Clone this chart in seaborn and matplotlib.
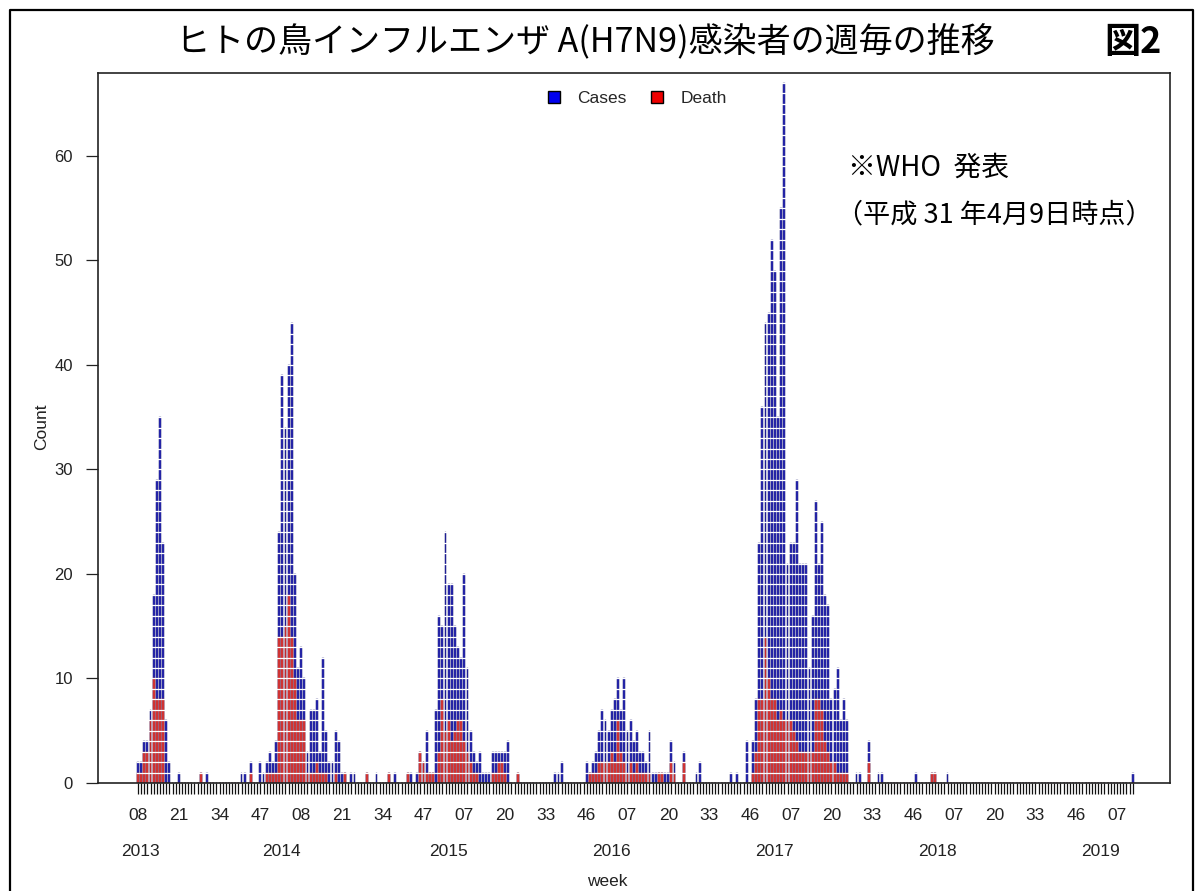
import numpy as np
import pandas as pd
import matplotlib
matplotlib.use("Agg")
import matplotlib.pyplot as plt
import matplotlib.transforms as mtransforms
from matplotlib.patches import Patch
from matplotlib.lines import Line2D
import seaborn as sns

# ---------------- data (weekly counts, 2013 w08 ... 2019 w12) ----------------
cases = [
    2, 2, 4, 4, 7, 18, 29, 35, 23, 6, 2, 0, 0,
    1, 0, 0, 0, 0, 0, 0, 1, 0, 1, 0, 0, 0,
    0, 0, 0, 0, 0, 0, 0, 1, 1, 0, 2, 0, 0,
    2, 1, 2, 3, 2, 4, 24, 39, 34, 40, 44, 20, 11,
    13, 10, 3, 7, 7, 8, 3, 12, 5, 2, 2, 5, 4,
    1, 1, 0, 1, 1, 0, 0, 0, 1, 0, 0, 1, 0,
    0, 0, 1, 0, 1, 0, 0, 0, 1, 1, 0, 1, 3,
    2, 5, 1, 1, 7, 16, 15, 24, 19, 19, 15, 13, 12,
    20, 11, 5, 3, 2, 3, 1, 1, 1, 3, 3, 3, 3,
    3, 4, 0, 0, 1, 0, 0, 0, 0, 0, 0, 0, 0,
    0, 0, 0, 1, 1, 2, 0, 0, 0, 0, 0, 0, 0,
    2, 1, 2, 3, 5, 7, 6, 5, 7, 8, 10, 7, 10,
    5, 6, 4, 5, 3, 3, 2, 5, 1, 1, 1, 1, 1,
    1, 4, 2, 0, 0, 3, 0, 0, 0, 1, 2, 0, 0,
    0, 0, 0, 0, 0, 0, 0, 1, 0, 1, 0, 0, 4,
    0, 4, 8, 23, 36, 44, 45, 52, 49, 35, 55, 67, 21,
    23, 23, 29, 21, 21, 21, 11, 16, 27, 21, 25, 18, 17,
    8, 9, 11, 6, 8, 6, 0, 0, 1, 1, 0, 0, 4,
    0, 0, 1, 1, 0, 0, 0, 0, 0, 0, 0, 0, 0,
    0, 1, 0, 0, 0, 0, 1, 1, 0, 0, 0, 1, 0,
    0, 0, 0, 0, 0, 0, 0, 0, 0, 0, 0, 0, 0,
    0, 0, 0, 0, 0, 0, 0, 0, 0, 0, 0, 0, 0,
    0, 0, 0, 0, 0, 0, 0, 0, 0, 0, 0, 0, 0,
    0, 0, 0, 0, 0, 0, 0, 0, 0, 0, 0, 0, 0,
    0, 0, 0, 0, 0, 1,
]
deaths = [
    1, 1, 3, 3, 6, 10, 8, 8, 8, 0, 0, 0, 0,
    0, 0, 0, 0, 0, 0, 0, 1, 0, 0, 0, 0, 0,
    0, 0, 0, 0, 0, 0, 0, 0, 0, 0, 1, 0, 0,
    0, 0, 1, 1, 1, 1, 14, 14, 15, 18, 14, 10, 6,
    6, 6, 1, 1, 1, 2, 1, 1, 1, 0, 0, 1, 0,
    0, 1, 0, 0, 0, 0, 0, 0, 1, 0, 0, 0, 0,
    0, 0, 1, 0, 0, 0, 0, 0, 1, 0, 0, 0, 3,
    2, 1, 1, 1, 0, 3, 8, 5, 6, 4, 5, 6, 6,
    4, 3, 2, 1, 1, 0, 0, 0, 0, 1, 1, 2, 2,
    1, 0, 0, 0, 1, 0, 0, 0, 0, 0, 0, 0, 0,
    0, 0, 0, 0, 0, 0, 0, 0, 0, 0, 0, 0, 0,
    0, 1, 1, 1, 2, 2, 2, 2, 3, 2, 6, 3, 2,
    1, 2, 1, 2, 1, 1, 1, 1, 0, 0, 1, 1, 0,
    0, 2, 1, 0, 0, 2, 0, 0, 0, 0, 0, 0, 0,
    0, 0, 0, 0, 0, 0, 0, 0, 0, 0, 0, 0, 0,
    0, 1, 3, 8, 8, 14, 10, 8, 8, 6, 7, 6, 6,
    6, 5, 4, 3, 3, 3, 3, 3, 8, 8, 7, 4, 3,
    2, 2, 1, 1, 1, 1, 0, 0, 0, 0, 0, 0, 2,
    0, 0, 0, 0, 0, 0, 0, 0, 0, 0, 0, 0, 0,
    0, 0, 0, 0, 0, 0, 1, 1, 0, 0, 0, 0, 0,
    0, 0, 0, 0, 0, 0, 0, 0, 0, 0, 0, 0, 0,
    0, 0, 0, 0, 0, 0, 0, 0, 0, 0, 0, 0, 0,
    0, 0, 0, 0, 0, 0, 0, 0, 0, 0, 0, 0, 0,
    0, 0, 0, 0, 0, 0, 0, 0, 0, 0, 0, 0, 0,
    0, 0, 0, 0, 0, 0,
]
week_tick_labels = ["08", "21", "34", "47", "08", "21", "34", "47", "07", "20", "33", "46",
                    "07", "20", "33", "46", "07", "20", "33", "46", "07", "20", "33", "46", "07"]
tick_every = 13
year_labels = ["2013", "2014", "2015", "2016", "2017", "2018", "2019"]
year_first_bar = [0, 45, 98, 150, 202, 254, 306]   # bar index of first week of each year

title_text = "ヒトの鳥インフルエンザ A(H7N9)感染者の週毎の推移"
fig_label = "図2"
note_1 = "※WHO  発表"
note_2 = "（平成 31 年4月9日時点）"

# ---------------- figure ----------------
sns.set_theme(style="white")
plt.rcParams["font.family"] = ["Liberation Sans", "Noto Sans CJK JP", "DejaVu Sans"]
W, H = 1203, 891
fig = plt.figure(figsize=(W / 100, H / 100), dpi=100)
ax = fig.add_axes([98 / W, 1 - 783 / H, 1072 / W, 710 / H])

df = pd.DataFrame({"week": np.arange(len(cases)), "cases": cases, "deaths": deaths})
sns.barplot(data=df, x="week", y="cases", native_scale=True, errorbar=None,
            color="#2a2ab6", saturation=1, width=0.6,
            edgecolor="#121272", linewidth=0.35, ax=ax)
sns.barplot(data=df, x="week", y="deaths", native_scale=True, errorbar=None,
            color="#dc3c3c", saturation=1, width=0.6,
            edgecolor="#a81818", linewidth=0.35, ax=ax)

n = len(cases)
ax.set_xlim(-12.75, 328.9)
ax.set_ylim(0, 67.94)
# unit separators (each bar is drawn as a stack of single cases)
ax.hlines(np.arange(1, max(cases) + 1), -0.6, n - 0.4, colors="white",
          linewidth=0.9, zorder=3)

# x ticks: one mark per week, labels every 13 weeks
ax.set_xticks(np.arange(n))
xl = [""] * n
for k, lab in enumerate(week_tick_labels):
    xl[k * tick_every] = lab
ax.set_xticklabels(xl)
ax.tick_params(axis="x", bottom=True, length=8, width=0.9, color="#111111",
               pad=10, labelsize=12.5, labelcolor="#222222")
ax.set_yticks(np.arange(0, 61, 10))
ax.tick_params(axis="y", left=True, length=9, width=0.9, color="#222222",
               pad=9, labelsize=12, labelcolor="#222222")
ax.set_xlabel("")
ax.set_ylabel("")
for s in ax.spines.values():
    s.set_color("#222222")
    s.set_linewidth(1.2)
    s.set_zorder(4)

trans = mtransforms.blended_transform_factory(ax.transData, ax.transAxes)
for lab, pos in zip(year_labels, year_first_bar):
    ax.text(pos + 0.8, -0.0958, lab, transform=trans, ha="center", va="center",
            fontsize=12.5, color="#222222")

fig.text(607 / W, 1 - 881 / H, "week", ha="center", va="center", fontsize=12.5, color="#222222")
fig.text(42 / W, 1 - 427 / H, "Count", ha="center", va="center", rotation=90,
         fontsize=12.5, color="#222222")

handles = [Patch(facecolor="#0000ee", edgecolor="black", label="Cases"),
           Patch(facecolor="#ee0000", edgecolor="black", label="Death")]
leg = ax.legend(handles=handles, loc="upper center", bbox_to_anchor=(0.503, 0.997), ncol=2,
                frameon=False, fontsize=12.5, handlelength=0.7, handleheight=0.7,
                handletextpad=1.0, columnspacing=1.4, borderaxespad=0.5)
leg.set_zorder(10)

cjk = ["Noto Sans CJK JP", "DejaVu Sans"]
ax.text((848 - 98) / 1072, (783 - 168) / 710, note_1, transform=ax.transAxes,
        ha="left", va="center", fontsize=20, family=cjk, color="black", zorder=10)
ax.text((836 - 98) / 1072, (783 - 215) / 710, note_2, transform=ax.transAxes,
        ha="left", va="center", fontsize=19.5, family=cjk, color="black", zorder=10)

fig.text(585 / W, 1 - 42 / H, title_text, ha="center", va="center", fontsize=24.5,
         family=cjk, color="black")
fig.text(1133 / W, 1 - 42 / H, fig_label, ha="center", va="center", fontsize=26,
         family=cjk, fontweight="bold", color="black")

fig.add_artist(Line2D([10 / W, 10 / W, 1193 / W, 1193 / W], [-0.1, 1 - 10 / H, 1 - 10 / H, -0.1],
                      transform=fig.transFigure, color="black", linewidth=1.6))

fig.savefig("out.png", dpi=100)
